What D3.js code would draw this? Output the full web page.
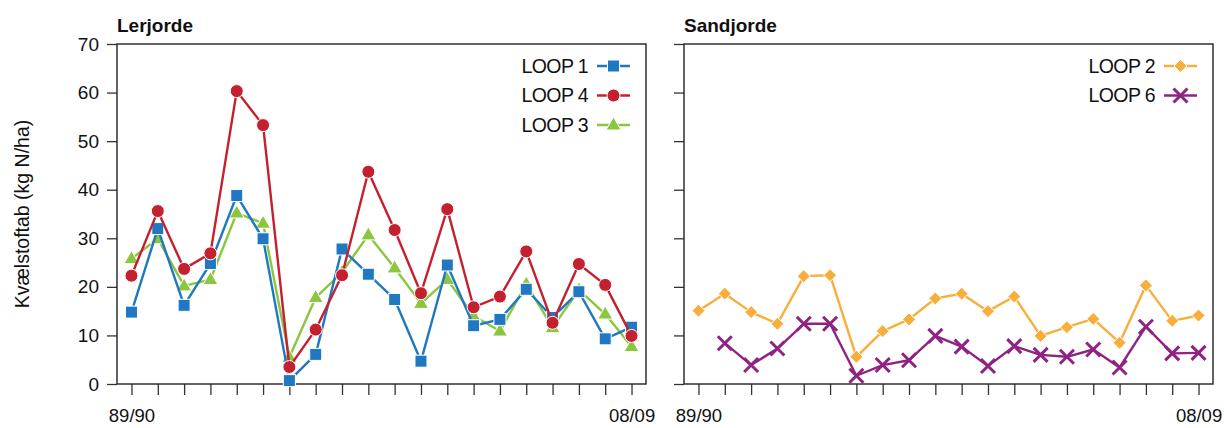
<!DOCTYPE html>
<html lang="da">
<head>
<meta charset="utf-8">
<title>Kvælstoftab</title>
<script src="https://cdn.jsdelivr.net/npm/d3@7"></script>
<style>
  body { margin: 0; background: #fff; }
  svg { font-family: "Liberation Sans", Arial, Helvetica, sans-serif; }
</style>
</head>
<body>
<script>
// seasons 89/90 .. 08/09
var seasons = [];
for (var yr = 1989; yr < 2009; yr++) {
  seasons.push(String(yr % 100).padStart(2, "0") + "/" + String((yr + 1) % 100).padStart(2, "0"));
}
var yTicks = [0, 10, 20, 30, 40, 50, 60, 70];

// Lerjorde
var loop1 = [14.8, 32.0, 16.2, 24.8, 38.8, 29.9, 0.7, 6.1, 27.8, 22.6, 17.4, 4.7, 24.5, 12.0, 13.3, 19.5, 13.7, 19.0, 9.3, 11.7];
var loop4 = [22.3, 35.6, 23.7, 26.9, 60.3, 53.3, 3.5, 11.2, 22.4, 43.7, 31.7, 18.7, 36.0, 15.8, 18.0, 27.3, 12.6, 24.7, 20.4, 9.9];
var loop3 = [25.8, 29.9, 20.2, 21.5, 35.2, 33.1, 5.5, 17.8, 23.0, 30.7, 23.9, 16.6, 21.5, 14.0, 10.9, 20.6, 11.6, 19.4, 14.4, 7.7];
// Sandjorde
var loop2 = [15.1, 18.6, 14.8, 12.4, 22.2, 22.4, 5.6, 10.9, 13.3, 17.6, 18.6, 15.0, 18.0, 9.9, 11.7, 13.4, 8.5, 20.3, 13.0, 14.1];
var loop6 = [null, 8.4, 3.9, 7.3, 12.4, 12.4, 1.7, 3.9, 4.9, 9.9, 7.7, 3.7, 7.8, 6.0, 5.6, 7.1, 3.4, 11.8, 6.3, 6.4];

var panels = [
  { title: "Lerjorde", left: 117, labels: true, series: [
    { name: "LOOP 1", values: loop1, color: "#1f78c1", marker: "square" },
    { name: "LOOP 4", values: loop4, color: "#c4202f", marker: "circle" },
    { name: "LOOP 3", values: loop3, color: "#8cc63f", marker: "triangle" }
  ], drawOrder: [2, 0, 1] },
  { title: "Sandjorde", left: 684, labels: false, series: [
    { name: "LOOP 2", values: loop2, color: "#f9ae3b", marker: "diamond" },
    { name: "LOOP 6", values: loop6, color: "#8e2383", marker: "cross" }
  ], drawOrder: [0, 1] }
];

var W = 1224, H = 428;
var plotTop = 44, plotBottom = 384, pw = 529;

var svg = d3.select("body").append("svg")
  .attr("width", W).attr("height", H);

var y = d3.scaleLinear().domain([0, 70]).range([plotBottom, plotTop]);

svg.append("text")
  .attr("transform", "translate(22," + (plotTop + plotBottom) / 2 + ") rotate(-90)")
  .attr("text-anchor", "middle").attr("dy", "0.35em")
  .style("font-size", "19.5px")
  .attr("fill", "#111")
  .text("Kvælstoftab (kg N/ha)");

function drawMarker(g, type, color, x0, y0) {
  if (type == "square") {
    g.append("rect").attr("x", x0 - 6).attr("y", y0 - 6).attr("width", 12).attr("height", 12)
      .attr("fill", color).attr("stroke", "#fff").attr("stroke-width", 1);
  } else if (type == "circle") {
    g.append("circle").attr("cx", x0).attr("cy", y0).attr("r", 6.5)
      .attr("fill", color).attr("stroke", "#fff").attr("stroke-width", 1);
  } else if (type == "triangle") {
    g.append("path").attr("d", "M" + x0 + "," + (y0 - 8) + "L" + (x0 + 7.5) + "," + (y0 + 5) + "L" + (x0 - 7.5) + "," + (y0 + 5) + "Z")
      .attr("fill", color).attr("stroke", "#fff").attr("stroke-width", 1);
  } else if (type == "diamond") {
    g.append("path").attr("d", "M" + x0 + "," + (y0 - 6.5) + "L" + (x0 + 6.5) + "," + y0 + "L" + x0 + "," + (y0 + 6.5) + "L" + (x0 - 6.5) + "," + y0 + "Z")
      .attr("fill", color).attr("stroke", "#fff").attr("stroke-width", 1);
  } else if (type == "cross") {
    g.append("path").attr("d", "M" + (x0 - 7) + "," + (y0 - 7) + "L" + (x0 + 7) + "," + (y0 + 7) + "M" + (x0 + 7) + "," + (y0 - 7) + "L" + (x0 - 7) + "," + (y0 + 7))
      .attr("fill", "none").attr("stroke", color).attr("stroke-width", 3);
  }
}

panels.forEach(function(p) {
  var x = d3.scalePoint().domain(seasons).range([p.left, p.left + pw]).padding(0.55);
  var g = svg.append("g");

  // y ticks (left side, outside)
  var yAxis = d3.axisLeft(y).tickValues(yTicks).tickSize(10).tickPadding(8)
    .tickFormat(p.labels ? d3.format("d") : "");
  var ya = g.append("g").attr("transform", "translate(" + p.left + ",0)").call(yAxis);
  ya.select(".domain").remove();
  ya.selectAll("line").attr("stroke", "#333").attr("stroke-width", 1.3);
  ya.selectAll("text").style("font-size", "19px").attr("fill", "#111");

  // x ticks
  var xAxis = d3.axisBottom(x).tickSize(11).tickPadding(14)
    .tickFormat(function(d, i) { return (i == 0 || i == seasons.length - 1) ? d : ""; });
  var xa = g.append("g").attr("transform", "translate(0," + plotBottom + ")").call(xAxis);
  xa.select(".domain").remove();
  xa.selectAll("line").attr("stroke", "#333").attr("stroke-width", 1.3);
  xa.selectAll("text").style("font-size", "18.5px").attr("fill", "#111");

  // frame
  g.append("rect").attr("x", p.left).attr("y", plotTop).attr("width", pw).attr("height", plotBottom - plotTop)
    .attr("fill", "none").attr("stroke", "#222").attr("stroke-width", 1.4);

  g.append("text").attr("x", p.left).attr("y", 32)
    .style("font-size", "19px").style("font-weight", "bold").attr("fill", "#111")
    .text(p.title);

  var line = d3.line()
    .defined(function(d) { return d != null; })
    .x(function(d, i) { return x(seasons[i]); })
    .y(function(d) { return y(d); });

  p.drawOrder.forEach(function(k) {
    var s = p.series[k];
    g.append("path").datum(s.values)
      .attr("d", line).attr("fill", "none")
      .attr("stroke", s.color).attr("stroke-width", 2.4).attr("stroke-linejoin", "round");
    var mg = g.append("g");
    s.values.forEach(function(v, i) {
      if (v != null) drawMarker(mg, s.marker, s.color, x(seasons[i]), y(v));
    });
  });

  // legend
  var lx = p.left + pw - 46;
  p.series.forEach(function(s, i) {
    var ly = 66 + i * 29.5;
    var lg = g.append("g");
    lg.append("text").attr("x", lx - 12).attr("y", ly).attr("dy", "0.35em")
      .attr("text-anchor", "end").style("font-size", "19.5px").attr("fill", "#111")
      .style("letter-spacing", "-0.6px")
      .text(s.name);
    lg.append("line").attr("x1", lx - 3).attr("x2", lx + 30).attr("y1", ly).attr("y2", ly)
      .attr("stroke", s.color).attr("stroke-width", 2.4);
    drawMarker(lg, s.marker, s.color, lx + 13.5, ly);
  });
});
</script>
</body>
</html>
